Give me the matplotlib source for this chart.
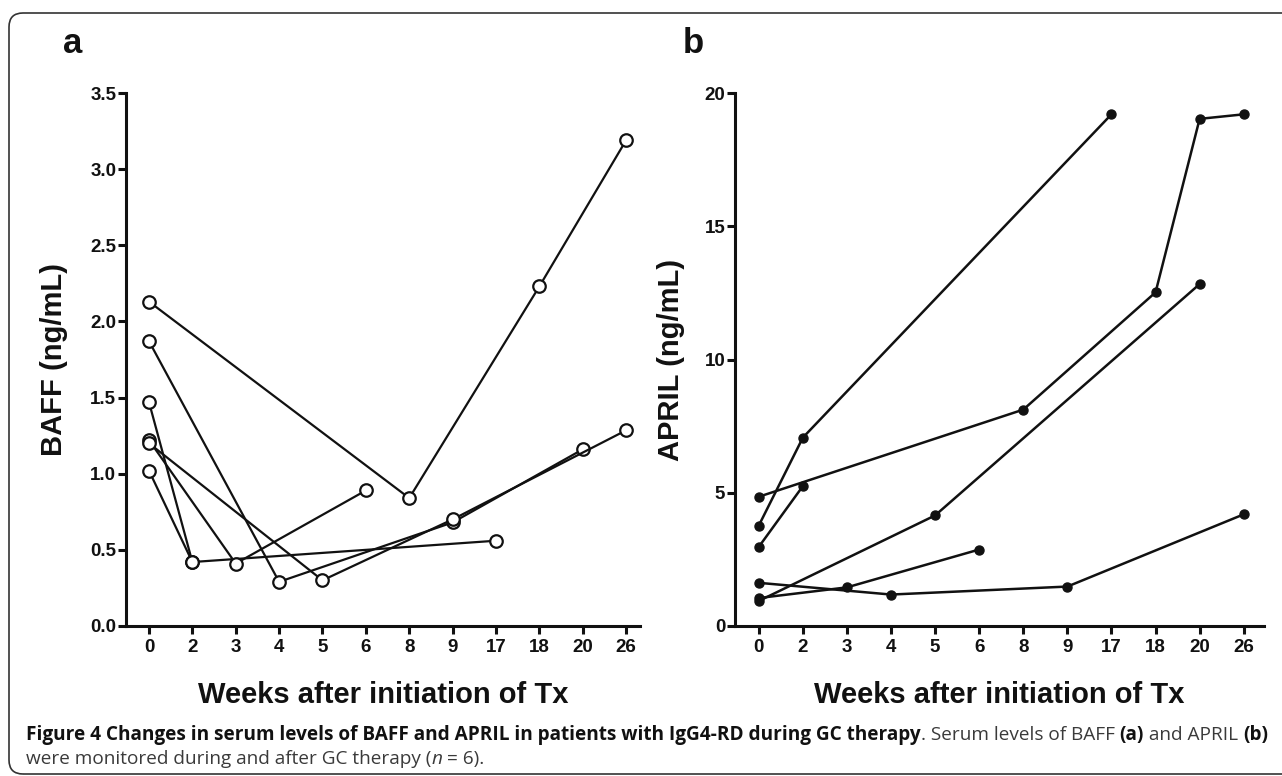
import matplotlib
matplotlib.use("Agg")
import matplotlib.pyplot as plt
from matplotlib.patches import FancyBboxPatch
from matplotlib.transforms import IdentityTransform
import numpy as np

# ---------------- data ----------------
weeks = ["0", "2", "3", "4", "5", "6", "8", "9", "17", "18", "20", "26"]

# Panel a: BAFF (ng/mL), one list of (week, value) per patient
baff_p1_weeks = ["0", "8", "18", "26"]
baff_p1_vals = [2.13, 0.84, 2.23, 3.19]
baff_p2_weeks = ["0", "4", "9", "20"]
baff_p2_vals = [1.87, 0.29, 0.68, 1.16]
baff_p3_weeks = ["0", "2", "17"]
baff_p3_vals = [1.47, 0.42, 0.56]
baff_p4_weeks = ["0", "3", "6"]
baff_p4_vals = [1.22, 0.41, 0.89]
baff_p5_weeks = ["0", "5", "9", "26"]
baff_p5_vals = [1.20, 0.30, 0.70, 1.285]
baff_p6_weeks = ["0", "2"]
baff_p6_vals = [1.02, 0.42]

# Panel b: APRIL (ng/mL)
april_p1_weeks = ["0", "2", "17"]
april_p1_vals = [3.77, 7.07, 19.2]
april_p2_weeks = ["0", "8", "18", "20", "26"]
april_p2_vals = [4.85, 8.12, 12.52, 19.03, 19.2]
april_p3_weeks = ["0", "2"]
april_p3_vals = [2.97, 5.25]
april_p4_weeks = ["0", "5", "20"]
april_p4_vals = [0.94, 4.15, 12.83]
april_p5_weeks = ["0", "3", "6"]
april_p5_vals = [1.05, 1.45, 2.87]
april_p6_weeks = ["0", "4", "9", "26"]
april_p6_vals = [1.62, 1.18, 1.48, 4.19]

baff_series = [
    (baff_p1_weeks, baff_p1_vals), (baff_p2_weeks, baff_p2_vals),
    (baff_p3_weeks, baff_p3_vals), (baff_p4_weeks, baff_p4_vals),
    (baff_p5_weeks, baff_p5_vals), (baff_p6_weeks, baff_p6_vals),
]
april_series = [
    (april_p1_weeks, april_p1_vals), (april_p2_weeks, april_p2_vals),
    (april_p3_weeks, april_p3_vals), (april_p4_weeks, april_p4_vals),
    (april_p5_weeks, april_p5_vals), (april_p6_weeks, april_p6_vals),
]

baff_yticks = [0.0, 0.5, 1.0, 1.5, 2.0, 2.5, 3.0, 3.5]
april_yticks = [0, 5, 10, 15, 20]

xlabel_text = "Weeks after initiation of Tx"
baff_ylabel = "BAFF (ng/mL)"
april_ylabel = "APRIL (ng/mL)"

caption_line1 = [
    ("Figure 4 Changes in serum levels of BAFF and APRIL in patients with IgG4-RD during GC therapy", "bold", "normal"),
    (". Serum levels of BAFF ", "normal", "normal"),
    ("(a)", "bold", "normal"),
    (" and APRIL ", "normal", "normal"),
    ("(b)", "bold", "normal"),
]
caption_line2 = [
    ("were monitored during and after GC therapy (", "normal", "normal"),
    ("n", "normal", "italic"),
    (" = 6).", "normal", "normal"),
]

# ---------------- figure ----------------
W, H = 1282, 776
fig = plt.figure(figsize=(W / 100, H / 100), dpi=100)
fig.patch.set_facecolor("white")

FONT = ["Liberation Sans", "DejaVu Sans"]
CAPFONT = ["Open Sans", "DejaVu Sans"]

def px_axes(x0, x1, ytop, ybot):
    return [x0 / W, 1 - ybot / H, (x1 - x0) / W, (ybot - ytop) / H]

ax_a = fig.add_axes(px_axes(126, 640, 93, 626))
ax_b = fig.add_axes(px_axes(735, 1264, 93, 626))

idx = {w: i for i, w in enumerate(weeks)}

def style_axes(ax, yticks, ylim, fmt, xlim):
    for s in ("top", "right"):
        ax.spines[s].set_visible(False)
    for s in ("left", "bottom"):
        ax.spines[s].set_linewidth(2.2)
        ax.spines[s].set_color("#111111")
    ax.set_xlim(*xlim)
    ax.set_ylim(*ylim)
    ax.set_xticks(range(len(weeks)))
    ax.set_xticklabels(weeks)
    ax.set_yticks(yticks)
    ax.set_yticklabels([fmt.format(v) for v in yticks])
    ax.tick_params(axis="both", direction="out", length=5.5, width=2.2,
                   color="#111111", labelsize=13.5, labelcolor="#111111")
    ax.tick_params(axis="x", pad=3.5)
    ax.tick_params(axis="y", pad=1.5)
    for lab in ax.get_xticklabels() + ax.get_yticklabels():
        lab.set_fontweight("bold")
        lab.set_family(FONT)

style_axes(ax_a, baff_yticks, (0, 3.5), "{:.1f}", (-0.53, 11.32))
style_axes(ax_b, april_yticks, (0, 20), "{:d}", (-0.54, 11.46))

for wk, vals in baff_series:
    ax_a.plot([idx[w] for w in wk], vals, color="#111111", lw=1.6,
              marker="o", ms=9, mfc="white", mec="#111111", mew=1.6,
              clip_on=False, zorder=3)

for wk, vals in april_series:
    ax_b.plot([idx[w] for w in wk], vals, color="#111111", lw=1.8,
              marker="o", ms=6.5, mfc="#111111", mec="#111111",
              clip_on=False, zorder=3)

for ax, lab, xc in ((ax_a, baff_ylabel, -0.113), (ax_b, april_ylabel, -0.095)):
    ax.set_ylabel(lab, fontsize=21, fontweight="bold", family=FONT, color="#111111")
    ax.yaxis.set_label_coords(xc, 0.5)

# x labels (figure-level, centered on each axes)
for ax in (ax_a, ax_b):
    pos = ax.get_position()
    fig.text(pos.x0 + pos.width / 2, 1 - 703 / H, xlabel_text, ha="center",
             va="baseline", fontsize=21, fontweight="bold", family=FONT,
             color="#111111")

# panel letters
fig.text(63 / W, 1 - 53 / H, "a", fontsize=25, fontweight="bold", family=FONT,
         ha="left", va="baseline", color="#111111")
fig.text(683 / W, 1 - 53 / H, "b", fontsize=25, fontweight="bold", family=FONT,
         ha="left", va="baseline", color="#111111")

# rounded frame (open on the right edge)
frame = FancyBboxPatch((9, H - 774), 1330, 774 - 13,
                       boxstyle="round,pad=0,rounding_size=14",
                       transform=IdentityTransform(), fill=False,
                       edgecolor="#333333", linewidth=1.2)
fig.add_artist(frame)

# caption with mixed styles
renderer = fig.canvas.get_renderer()

def run_width(text, weight, style, size):
    t1 = fig.text(0, 0, "|" + text + "|", fontsize=size, fontweight=weight,
                  fontstyle=style, family=CAPFONT)
    t2 = fig.text(0, 0, "||", fontsize=size, fontweight=weight,
                  fontstyle=style, family=CAPFONT)
    w = t1.get_window_extent(renderer).width - t2.get_window_extent(renderer).width
    t1.remove(); t2.remove()
    return w

def line_width(runs, size):
    return sum(run_width(t, wgt, sty, size) for t, wgt, sty in runs)

x_start, x_end = 26, 1266
size = 13.0
for _ in range(3):
    w1 = line_width(caption_line1, size)
    size = size * (x_end - x_start) / w1

def draw_runs(runs, x0, ybase, size):
    x = x0
    for t, wgt, sty in runs:
        col = "#111111" if wgt == "bold" else "#3a3a3a"
        fig.text(x / W, 1 - ybase / H, t, fontsize=size, fontweight=wgt,
                 fontstyle=sty, family=CAPFONT, color=col,
                 ha="left", va="baseline")
        x += run_width(t, wgt, sty, size)

draw_runs(caption_line1, x_start, 740, size)
draw_runs(caption_line2, x_start, 764, size)

fig.savefig("out.png", dpi=100, facecolor="white")
